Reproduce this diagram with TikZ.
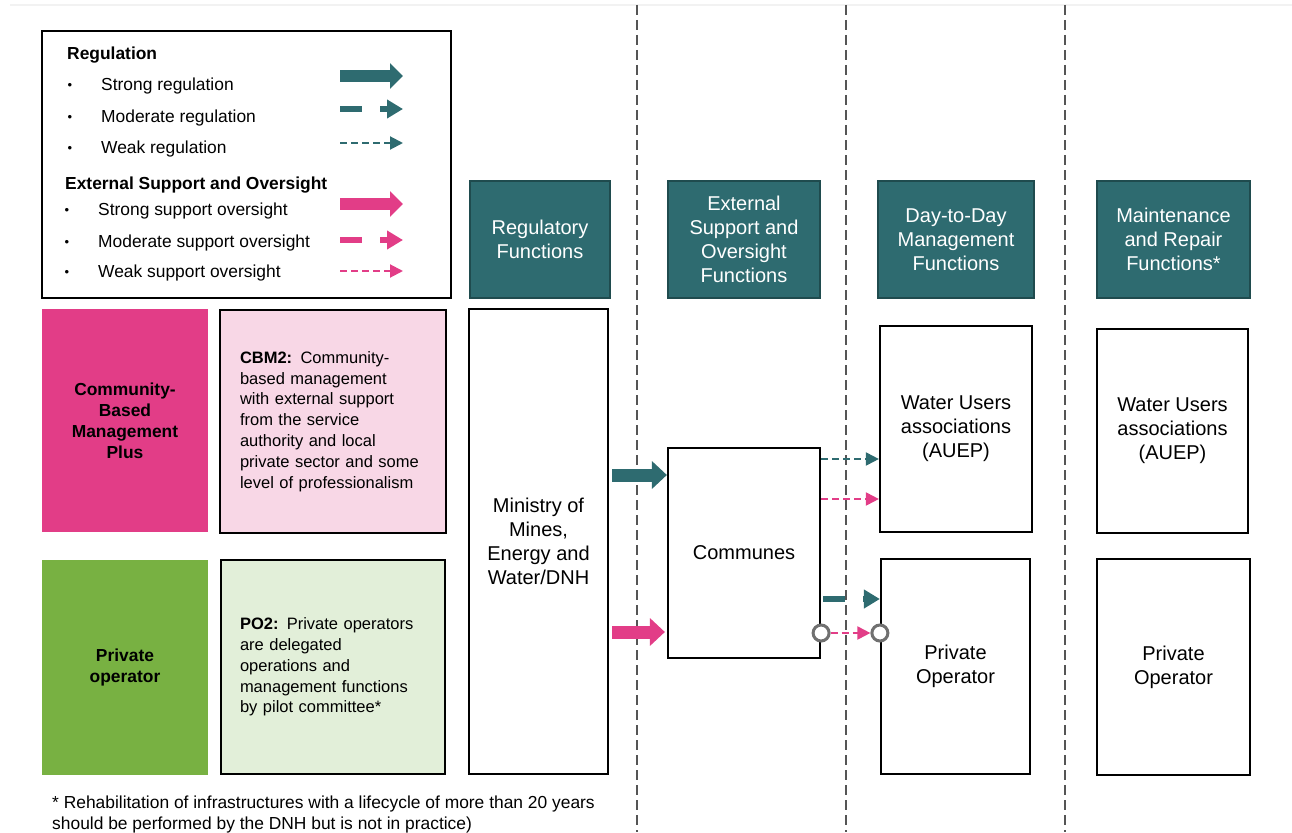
\documentclass[tikz,border=0pt]{standalone}
\usepackage{fontspec}
\setmainfont{Liberation Sans}
\usetikzlibrary{arrows.meta,positioning}
\definecolor{tealbox}{HTML}{2E6B70}
\definecolor{tealedge}{HTML}{1F4B4E}
\definecolor{pinkbox}{HTML}{E23D87}
\definecolor{pinklight}{HTML}{F8D7E6}
\definecolor{greenbox}{HTML}{78B142}
\definecolor{greenlight}{HTML}{E2EFD9}
\definecolor{ringgray}{HTML}{707070}
\definecolor{divgray}{HTML}{555555}
\tikzset{
  hdr/.style={draw=tealedge, fill=tealbox, line width=1.5pt, text=white, align=center,
    font=\fontsize{20}{24}\selectfont, inner sep=0pt},
  actor/.style={draw=black, fill=white, line width=2.2pt, align=center,
    font=\fontsize{20}{24}\selectfont, inner sep=0pt},
  model/.style={align=center, font=\fontsize{17.4}{21}\selectfont\bfseries, inner sep=0pt},
  desc/.style={draw=black, line width=2.2pt, align=left, text width=186pt,
    font=\fontsize{16.5}{20.8}\selectfont, inner sep=0pt},
  item/.style={anchor=west, font=\fontsize{17.4}{21}\selectfont, inner sep=0pt},
  dot/.style={font=\fontsize{13}{14}\selectfont, inner sep=0pt},
  ring/.style={circle, draw=ringgray, line width=3pt, fill=white, minimum size=16pt, inner sep=0pt},
  divider/.style={draw=divgray, line width=1.3pt, dash pattern=on 10pt off 5pt},
  strongreg/.style={line width=12pt, draw=tealbox, -{Triangle[length=13pt,width=25pt]}},
  modreg/.style={line width=6pt, draw=tealbox, dash pattern=on 22pt off 18pt,
    -{Triangle[length=16pt,width=18pt]}},
  weakreg/.style={line width=2pt, draw=tealbox, dash pattern=on 7pt off 4pt,
    -{Triangle[length=13pt,width=13pt]}},
  strongsup/.style={strongreg, draw=pinkbox},
  modsup/.style={modreg, draw=pinkbox},
  weaksup/.style={weakreg, draw=pinkbox}
}
\begin{document}
\begin{tikzpicture}[x=1pt, y=-1pt]
  \useasboundingbox (0,0) rectangle (1292,832);
  \draw[line width=2pt, black!5] (10,5) -- (1292,5);
  % column dividers
  \draw[divider] (637,5) -- (637,832);
  \draw[divider] (846,5) -- (846,832);
  \draw[divider] (1065,5) -- (1065,832);

  % legend
  \node[draw, line width=2.5pt, minimum width=409pt, minimum height=267pt] (legend) at (246.5,164.5) {};
  \node[item, font=\fontsize{17.4}{21}\selectfont\bfseries] (reghead) at (67,55) {Regulation};
  \node[item, font=\fontsize{17.4}{21}\selectfont\bfseries] (suphead) at (65,185) {External Support and Oversight};
  \foreach \y/\t in {86/Strong regulation, 118/Moderate regulation, 149/Weak regulation} {
    \node[dot] (rb\y) at (70,\y) {•};
    \node[item] (rt\y) at (101,\y) {\t};
  }
  \foreach \y/\t in {211/Strong support oversight, 243/Moderate support oversight, 273/Weak support oversight} {
    \node[dot] (sb\y) at (67,\y) {•};
    \node[item] (st\y) at (98,\y) {\t};
  }
  \foreach \y/\s in {76/strongreg, 109/modreg, 143/weakreg, 204/strongsup, 240/modsup, 271/weaksup}
    \draw[\s] (340,\y) -- (403,\y);

  % models
  \node[model, fill=pinkbox, minimum width=166pt, minimum height=223pt] (cbm) at (125,420.5)
    {Community-\\Based\\Management\\Plus};
  \node[desc, fill=pinklight, minimum width=226pt, minimum height=223pt] (cbmtxt) at (333,421.5)
    {\textbf{CBM2:} Community-\\based management\\with external support\\from the service\\authority and local\\private sector and some\\level of professionalism};
  \node[model, fill=greenbox, minimum width=166pt, minimum height=215pt] (po) at (125,667.5)
    {Private\\operator};
  \node[desc, fill=greenlight, minimum width=224pt, minimum height=214pt] (potxt) at (333,667)
    {\textbf{PO2:} Private operators\\are delegated\\operations and\\management functions\\by pilot committee*};

  % function headers
  \node[hdr, minimum width=140pt, minimum height=117pt] (hreg) at (540,239.5) {Regulatory\\Functions};
  \node[hdr, minimum width=152pt, minimum height=117pt] (hext) at (744,239.5) {External\\Support and\\Oversight\\Functions};
  \node[hdr, minimum width=156pt, minimum height=117pt] (hday) at (956,239.5) {Day-to-Day\\Management\\Functions};
  \node[hdr, minimum width=153pt, minimum height=117pt] (hmnt) at (1173.5,239.5) {Maintenance\\and Repair\\Functions*};

  % actors
  \node[actor, minimum width=139pt, minimum height=465pt] (ministry) at (538.5,541.5) {Ministry of\\Mines,\\Energy and\\Water/DNH};
  \node[actor, minimum width=152pt, minimum height=210pt] (communes) at (744,553) {Communes};
  \node[actor, minimum width=152pt, minimum height=206pt] (wuaday) at (956,429) {Water Users\\associations\\(AUEP)};
  \node[actor, minimum width=149pt, minimum height=215pt] (poday) at (955.5,666.5) {Private\\Operator};
  \node[actor, minimum width=151pt, minimum height=204pt] (wuamnt) at (1172.5,431) {Water Users\\associations\\(AUEP)};
  \node[actor, minimum width=153pt, minimum height=216pt] (pomnt) at (1173.5,667) {Private\\Operator};

  % relations
  \draw[strongreg, line width=13pt, -{Triangle[length=15pt,width=27pt]}, shorten <=3pt] (ministry.east |- 0,475) -- (communes.west |- 0,475);
  \draw[strongsup, line width=13pt, -{Triangle[length=15pt,width=27pt]}, shorten <=3pt, shorten >=2pt] (ministry.east |- 0,632) -- (communes.west |- 0,632);
  \draw[weakreg] (communes.east |- 0,459) -- (wuaday.west |- 0,459);
  \draw[weaksup] (communes.east |- 0,499) -- (wuaday.west |- 0,499);
  \draw[modreg, shorten <=2pt] (communes.east |- 0,599) -- (poday.west |- 0,599);
  \node[ring] (ringa) at (communes.east |- 0,633) {};
  \node[ring] (ringb) at (poday.west |- 0,633) {};
  \draw[weaksup] (ringa) -- (ringb);

  \node[item, align=left] (note) at (52,814)
    {* Rehabilitation of infrastructures with a lifecycle of more than 20 years\\should be performed by the DNH but is not in practice)};
\end{tikzpicture}
\end{document}
